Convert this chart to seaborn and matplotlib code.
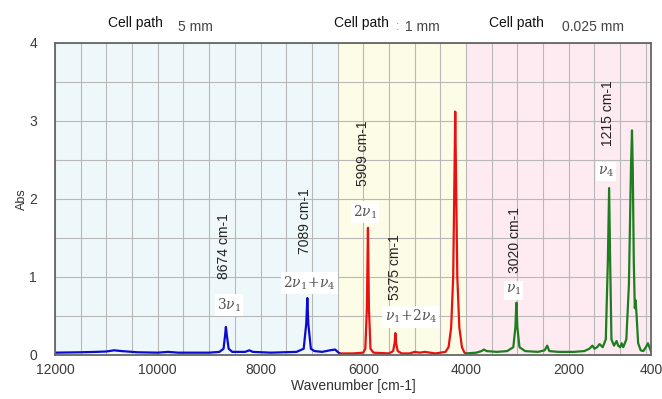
import numpy as np
import pandas as pd
import matplotlib
matplotlib.use("Agg")
import matplotlib.pyplot as plt
import seaborn as sns

# spectrum points, one list per cell path
blue_wn = [12000, 11500, 11200, 11000, 10850, 10700, 10400, 10000, 9800, 9600, 9000, 8800,
           8720, 8690, 8674, 8655, 8620, 8550, 8300, 8220, 8150, 7800, 7300, 7160, 7110,
           7089, 7070, 7020, 6950, 6800, 6650, 6550, 6480, 6450]
blue_abs = [0.03, 0.035, 0.04, 0.045, 0.06, 0.05, 0.035, 0.03, 0.04, 0.03, 0.03, 0.04,
            0.08, 0.25, 0.36, 0.25, 0.08, 0.04, 0.04, 0.06, 0.04, 0.03, 0.04, 0.08, 0.4,
            0.73, 0.4, 0.08, 0.05, 0.04, 0.06, 0.07, 0.03, 0.02]

red_wn = [6450, 6200, 6000, 5960, 5930, 5909, 5890, 5860, 5800, 5500, 5420, 5390, 5375,
          5360, 5330, 5250, 5100, 5000, 4900, 4800, 4600, 4400, 4340, 4290, 4250, 4225,
          4210, 4195, 4170, 4130, 4080, 4030, 4000]
red_abs = [0.02, 0.02, 0.03, 0.08, 0.6, 1.63, 0.6, 0.08, 0.03, 0.02, 0.05, 0.15, 0.28,
           0.15, 0.05, 0.02, 0.02, 0.04, 0.03, 0.04, 0.02, 0.04, 0.1, 0.35, 1.0, 2.3,
           3.12, 2.3, 1.0, 0.35, 0.1, 0.03, 0.02]

green_wn = [4000, 3800, 3700, 3650, 3600, 3400, 3200, 3080, 3040, 3020, 3000, 2960, 2850,
            2600, 2470, 2420, 2380, 2200, 1900, 1700, 1600, 1540, 1500, 1450, 1400, 1340,
            1280, 1240, 1215, 1195, 1170, 1120, 1070, 1040, 1000, 970, 940, 880, 830, 790,
            770, 755, 735, 715, 700, 680, 650, 600, 550, 500, 460, 430, 400]
green_abs = [0.02, 0.03, 0.05, 0.07, 0.05, 0.04, 0.05, 0.1, 0.35, 0.67, 0.35, 0.1, 0.05,
             0.04, 0.06, 0.12, 0.05, 0.04, 0.04, 0.05, 0.08, 0.12, 0.08, 0.1, 0.14, 0.1,
             0.2, 1.2, 2.14, 1.2, 0.2, 0.12, 0.18, 0.12, 0.1, 0.15, 0.1, 0.2, 0.9, 2.4,
             2.88, 2.4, 1.2, 0.6, 0.7, 0.5, 0.15, 0.06, 0.05, 0.1, 0.15, 0.1, 0.05]

# peak labels
peak_wn = [8674, 7089, 5909, 5375, 3020, 1215]
peak_text = ["8674 cm-1", "7089 cm-1", "5909 cm-1", "5375 cm-1", "3020 cm-1", "1215 cm-1"]
mode_text = [r"$3\nu_1$", r"$2\nu_1\!+\!\nu_4$", r"$2\nu_1$", r"$\nu_1\!+\!2\nu_4$", r"$\nu_1$", r"$\nu_4$"]

# cell path regions
region_lo = [6500, 4000, 400]
region_hi = [12000, 6500, 4000]
region_path = ["5 mm", "1 mm", "0.025 mm"]

xtick_vals = [12000, 10000, 8000, 6000, 4000, 2000, 400]

sns.set_style("white")
plt.rcParams['font.family'] = ['Liberation Sans', 'DejaVu Sans']
plt.rcParams['mathtext.fontset'] = 'dejavuserif'

fig = plt.figure(figsize=(6.62, 3.99), dpi=100)
ax = fig.add_axes([55 / 662, 44 / 399, 596 / 662, 312 / 399])

bg_colors = ["#eef8fb", "#fdfce6", "#fdebf1"]
for lo, hi, c in zip(region_lo, region_hi, bg_colors):
    ax.axvspan(lo, hi, color=c, zorder=0, lw=0)

segments = [(blue_wn, blue_abs, "#0a0ad0"), (red_wn, red_abs, "#e81010"),
            (green_wn, green_abs, "#1e7d1e")]
for wn, ab, col in segments:
    df = pd.DataFrame({"wn": wn, "abs": ab})
    sns.lineplot(data=df, x="wn", y="abs", color=col, lw=1.6, ax=ax, zorder=3)

ax.set_xlim(12000, 400)
ax.set_ylim(0, 4)
ax.set_xticks(xtick_vals)
ax.set_xticklabels([str(v) for v in xtick_vals], fontsize=10, color="#3a3a3a")
ax.set_xticks(np.arange(500, 12000, 500), minor=True)
ax.set_yticks([0, 1, 2, 3, 4])
ax.set_yticklabels(["0", "1", "2", "3", "4"], fontsize=10, color="#3a3a3a")
ax.set_yticks(np.arange(0.5, 4, 1.0), minor=True)
ax.grid(which="both", color="#b8b8b8", lw=0.8, zorder=1)
ax.tick_params(which="both", direction="in", length=5, color="#555555", width=0.9)
ax.tick_params(axis="y", which="major", pad=13)
ax.tick_params(axis="x", which="major", pad=6)
for s in ax.spines.values():
    s.set_color("#666666")
    s.set_linewidth(1.3)
    s.set_zorder(4)

ax.set_xlabel("Wavenumber [cm-1]", fontsize=10, color="#333333", labelpad=1)
ax.set_ylabel("Abs", fontsize=9, color="#333333", labelpad=1)

# rotated wavenumber labels and mode labels
wn_label_y = [1.40, 1.72, 2.59, 1.13, 1.47, 3.10]
mode_label_y = [0.64, 0.92, 1.83, 0.49, 0.83, 2.35]
mode_dx = [-60, -40, 60, -300, 60, 60]
wn_dx = [40, 40, 100, 0, 20, 20]
for w, t, m, yl, ym, dx, wx in zip(peak_wn, peak_text, mode_text, wn_label_y,
                                   mode_label_y, mode_dx, wn_dx):
    ax.text(w + wx, yl, t, rotation=90, ha="center", va="center", fontsize=10,
            color="#222222", zorder=5)
    ax.text(w + dx, ym, m, ha="center", va="center", fontsize=10, color="#555555", zorder=5,
            bbox=dict(boxstyle="square,pad=0.15", fc="white", ec="none"))

# cell path labels above the plot
cell_x = [135, 361, 516]
path_x = [195, 422, 593]
for cx, px, p in zip(cell_x, path_x, region_path):
    fig.text(cx / 662, 1 - 23 / 399, "Cell path", ha="center", va="center",
             fontsize=10, color="#111111")
    fig.text(px / 662, 1 - 27 / 399, p, ha="center", va="center",
             fontsize=10, color="#444444")
fig.text(398 / 662, 1 - 27 / 399, ":", ha="center", va="center", fontsize=9, color="#888888")

fig.savefig("out.png", dpi=100)
